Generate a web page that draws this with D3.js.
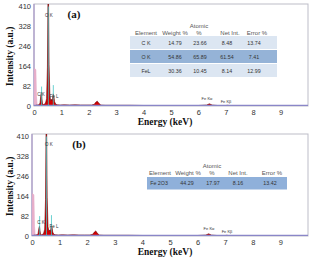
<!DOCTYPE html>
<html><head><meta charset="utf-8">
<script src="https://cdn.jsdelivr.net/npm/d3@7"></script>
<style>html,body{margin:0;padding:0;background:#fff;}svg{display:block;}</style>
</head><body>
<svg id="c" width="313" height="262"></svg>
<script>
// ---- data ----
const xTicks = [0,1,2,3,4,5,6,7,8,9];
const yTicks = [0,82,164,246,328,410];
const energy = [0,0.02,0.05,0.08,0.1,0.14,0.18,0.22,0.25,0.27,0.29,0.31,0.34,0.38,0.42,0.46,0.49,0.51,0.53,0.55,0.58,0.61,0.64,0.67,0.7,0.72,0.75,0.79,0.85,0.95,1.1,1.3,1.5,1.7,1.9,2.1,2.2,2.26,2.31,2.36,2.44,2.6,3.0,3.5,4.0,4.5,5.0,5.5,6.0,6.3,6.4,6.5,6.7,7.0,7.06,7.12,7.5,8.0,8.5,9.0,9.5,10];
const countsA = [0,0,2,3,4,4,5,12,45,58,30,8,6,8,12,30,160,450,450,170,40,22,28,22,50,45,18,8,5,4,5,4,5,4,4,4,7,16,20,12,4,3,3,3,2,2,2,2,2,4,9,4,2,2,3,2,2,1,1,1,1,1];
const countsB = [0,0,2,3,4,4,5,10,32,40,22,7,5,7,10,28,150,450,450,160,38,20,25,20,44,40,16,7,5,4,5,4,5,4,4,4,7,16,21,12,4,3,3,3,2,2,2,2,2,4,9,4,2,2,3,2,2,1,1,1,1,1];
const noiseE = [0,0.005,0.07,0.09,0.12];
const noiseA = [0,155,150,40,0];
const noiseB = [0,175,170,40,0];
const lineNames = ["C K","O K","Fe L"];
const lineE = [0.277,0.525,0.705];
const lineHA = [80,410,86];
const lineHB = [82,410,86];
const feNames = ["Fe K\u03b1","Fe K\u03b2"];
const feE = [6.4,7.06];
const headerA = ["Element","Weight %","Atomic\n%","Net Int.","Error %"];
const rowsA = [["C K","14.79","23.66","8.48","13.74"],["O K","54.86","65.89","61.54","7.41"],["FeL","30.36","10.45","8.14","12.99"]];
const rowsB = [["Fe 2O3","44.29","17.97","8.16","13.42"]];

const svg = d3.select("#c");

function panel(o){
  const g = svg.append("g");
  const x = d3.scaleLinear().domain([0,10]).range([o.x0,o.x1]);
  const y = d3.scaleLinear().domain([0,410]).range([o.yb,o.yt]);
  const clipId = "clip"+o.id;
  g.append("clipPath").attr("id",clipId).append("rect")
    .attr("x",o.x0).attr("y",o.ft).attr("width",o.x1-o.x0).attr("height",o.yb-o.ft);
  // frame
  g.append("rect").attr("x",o.x0).attr("y",o.ft).attr("width",o.x1-o.x0).attr("height",o.yb-o.ft)
    .attr("fill","none").attr("stroke","#bdbdc8").attr("stroke-width",1);
  g.append("line").attr("x1",o.x0).attr("x2",o.x0).attr("y1",o.ft).attr("y2",o.yb)
    .attr("stroke","#a898c8").attr("stroke-width",1.2);
  const pg = g.append("g").attr("clip-path",`url(#${clipId})`);
  // noise peak
  const area = d3.area().x(d=>x(d[0])).y0(y(0)).y1(d=>y(d[1]));
  pg.append("path").datum(noiseE.map((e,i)=>[e,o.noise[i]])).attr("d",area)
    .attr("fill","#eab2cc").attr("stroke","#e0a0c0").attr("stroke-width",0.5);
  // spectrum
  const sp = energy.map((e,i)=>[e,o.counts[i]]);
  pg.append("path").datum(sp).attr("d",area).attr("fill","#d40000")
    .attr("stroke","#6a0000").attr("stroke-width",0.6);
  // baseline
  pg.append("line").attr("x1",x(0)).attr("x2",x(10)).attr("y1",y(0)-0.5).attr("y2",y(0)-0.5)
    .attr("stroke","#8a86c8").attr("stroke-width",1.5);
  // marker lines
  lineE.forEach((e,i)=>{
    pg.append("line").attr("x1",x(e)).attr("x2",x(e)).attr("y1",y(0)).attr("y2",y(o.lineH[i]))
      .attr("stroke","#44c4c4").attr("stroke-width",0.8);
  });
  // element labels
  o.lab.forEach((p,i)=>{
    g.append("text").attr("x",p[0]).attr("y",p[1]).text(lineNames[i])
      .attr("font-family","Liberation Sans, Arial, sans-serif").attr("font-size",4.5)
      .attr("fill","#333").attr("text-anchor","middle");
  });
  o.feLab.forEach((p,i)=>{
    g.append("text").attr("x",p[0]).attr("y",p[1]).text(feNames[i])
      .attr("font-family","Liberation Sans, Arial, sans-serif").attr("font-size",4)
      .attr("fill","#333").attr("text-anchor","middle");
  });
  // axes labels
  const ax = d3.axisBottom(x).tickValues(xTicks).tickSize(0).tickPadding(4).tickFormat(d3.format("d"));
  const ag = g.append("g").attr("transform",`translate(0,${o.yb})`).call(ax);
  ag.select(".domain").remove();
  ag.selectAll("text").attr("font-family","Liberation Sans, Arial, sans-serif").attr("font-size",7.5).attr("fill","#333");
  const ay = d3.axisLeft(y).tickValues(yTicks).tickSize(0).tickPadding(3);
  const yg = g.append("g").attr("transform",`translate(${o.x0},0)`).call(ay);
  yg.select(".domain").remove();
  yg.selectAll("text").attr("font-family","Liberation Sans, Arial, sans-serif").attr("font-size",7.5).attr("fill","#333");
  g.append("text").attr("x",165).attr("y",o.yb+19).attr("text-anchor","middle")
    .attr("font-family","Liberation Serif, Times New Roman, serif").attr("font-weight","bold").attr("font-size",9.5)
    .attr("fill","#111").text("Energy (keV)");
  g.append("text").attr("transform",`translate(13,${(o.yb+o.yt)/2}) rotate(-90)`).attr("text-anchor","middle")
    .attr("font-family","Liberation Serif, Times New Roman, serif").attr("font-weight","bold").attr("font-size",9.5)
    .attr("fill","#111").text("Intensity (a.u.)");
  g.append("text").attr("x",o.pl[0]).attr("y",o.pl[1]).attr("text-anchor","middle")
    .attr("font-family","Liberation Serif, Times New Roman, serif").attr("font-weight","bold").attr("font-size",11)
    .attr("fill","#111").text(o.name);
  // table
  const t = o.tab;
  t.rows.forEach((r,ri)=>{
    g.append("rect").attr("x",t.bx0).attr("y",t.by[ri]).attr("width",t.bx1-t.bx0).attr("height",t.bh)
      .attr("fill",t.fills[ri]);
    r.forEach((c,ci)=>{
      g.append("text").attr("x",t.dx[ci]).attr("y",t.by[ri]+t.bh/2+2).text(c).attr("text-anchor","middle")
        .attr("font-family","Liberation Sans, Arial, sans-serif").attr("font-size",5.3).attr("fill","#333");
    });
  });
  headerA.forEach((h,ci)=>{
    const parts = h.split("\n");
    parts.forEach((p,pi)=>{
      g.append("text").attr("x",t.hx[ci]).attr("y",t.hy - (parts.length-1-pi)*7.5).text(p).attr("text-anchor","middle")
        .attr("font-family","Liberation Sans, Arial, sans-serif").attr("font-size",6).attr("fill","#555");
    });
  });
}

panel({id:"a",name:"(a)",x0:34,x1:308,yb:106,yt:6.5,ft:4,counts:countsA,noise:noiseA,lineH:lineHA,
  lab:[[41,96],[49,17],[54,98]],feLab:[[207,100],[226,103]],pl:[74,18],
  tab:{rows:rowsA,bx0:130,bx1:277,by:[36,50,64],bh:13,fills:["#dce6f2","#95b3d7","#dce6f2"],
    dx:[146,175,200,227,254],hx:[146,175,199,230,257],hy:35}});
panel({id:"b",name:"(b)",x0:32,x1:308,yb:236,yt:136.5,ft:134,counts:countsB,noise:noiseB,lineH:lineHB,
  lab:[[41,224],[49,146],[54,228]],feLab:[[209,230],[227,233]],pl:[79,148],
  tab:{rows:rowsB,bx0:147,bx1:287,by:[177],bh:12.5,fills:["#8fb0da"],
    dx:[159,187,213,238,270],hx:[160,188,212,238,272],hy:175}});
</script>
</body></html>
